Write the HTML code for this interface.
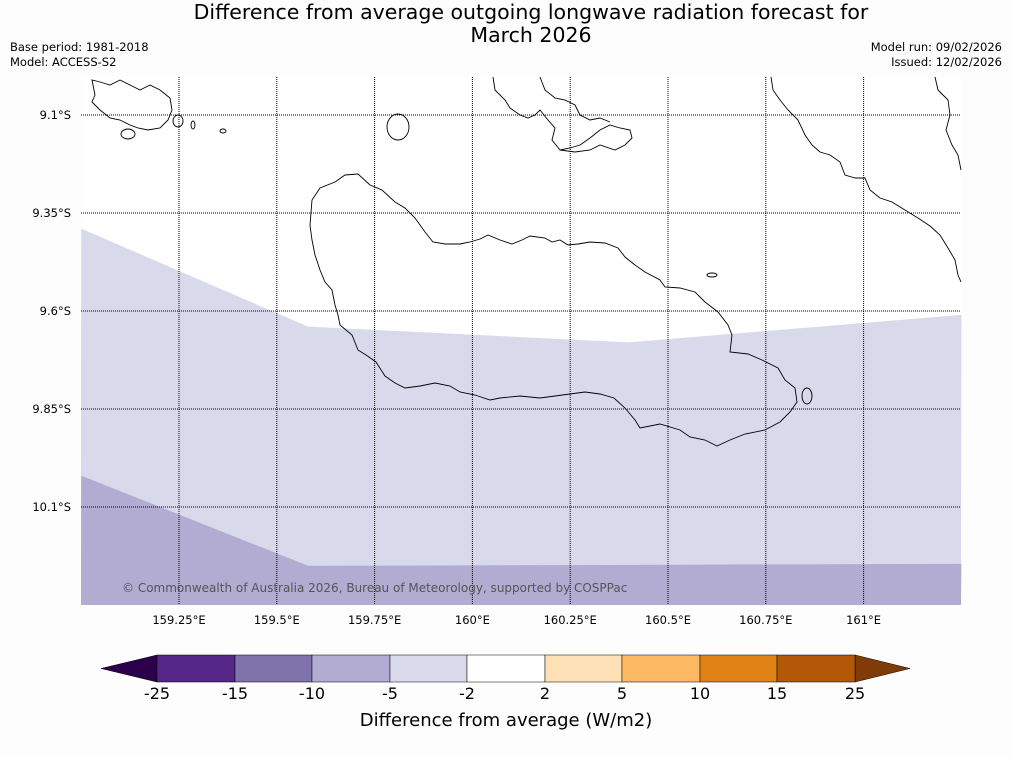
<!DOCTYPE html>
<html><head><meta charset="utf-8"><style>
body{margin:0;width:1011px;height:758px;background:#fdfdfd;font-family:"DejaVu Sans",sans-serif;position:relative;overflow:hidden}
.t{position:absolute;white-space:nowrap;color:#000}
</style></head><body>
<div class="t" style="left:0;width:1062px;text-align:center;top:1px;font-size:20.5px;line-height:23px">Difference from average outgoing longwave radiation forecast for<br>March 2026</div>
<div class="t" style="left:10px;top:40px;font-size:11.5px;line-height:15px">Base period: 1981-2018<br>Model: ACCESS-S2</div>
<div class="t" style="right:9px;top:40px;font-size:11.5px;line-height:15px;text-align:right">Model run: 09/02/2026<br>Issued: 12/02/2026</div>
<svg id="s" width="1011" height="758" style="position:absolute;left:0;top:0" font-family="DejaVu Sans, sans-serif"></svg>
<script>
const lonTicks=[159.25,159.5,159.75,160,160.25,160.5,160.75,161];
const lonLabels=["159.25°E","159.5°E","159.75°E","160°E","160.25°E","160.5°E","160.75°E","161°E"];
const latTicks=[9.1,9.35,9.6,9.85,10.1];
const latLabels=["9.1°S","9.35°S","9.6°S","9.85°S","10.1°S"];
// anomaly contour boundaries (lon, lat)
const band5Lons=[159.0,159.58,160.4,161.25];
const band5Lats=[9.39,9.64,9.68,9.61];
const band10Lons=[159.0,159.58,161.25];
const band10Lats=[10.02,10.25,10.245];
const cbBounds=[-25,-15,-10,-5,-2,2,5,10,15,25];
const cbColors=["#542788","#8073ac","#b2abd2","#d8daeb","#ffffff","#fee0b6","#fdb863","#e08214","#b35806"];
const NS="http://www.w3.org/2000/svg";
const s=document.getElementById('s');
const X=lon=>179+(lon-159.25)*391.2, Y=lat=>115+(lat-9.1)*392;
function el(t,a,p){const e=document.createElementNS(NS,t);for(const k in a)e.setAttribute(k,a[k]);(p||s).appendChild(e);return e;}
const g=el('g',{});


el('rect',{x:81,y:77,width:880,height:528,fill:'#fff'},g);
let p1=band5Lons.map((l,i)=>X(l)+','+Y(band5Lats[i])).join(' ')+' 961,605 81,605';
const a1=el('polygon',{points:p1,fill:'#d8daeb'},g);


let p2=band10Lons.map((l,i)=>X(l)+','+Y(band10Lats[i])).join(' ')+' 961,605 81,605';
const a2=el('polygon',{points:p2,fill:'#b2abd2'},g);


const coast=el('g',{fill:'none',stroke:'#000','stroke-width':0.9},g);


el('path',{d:'M310,225 L312,200 L320,188 L335,182 L345,175 L358,174 L370,185 L382,190 L395,202 L405,208 L415,218 L425,232 L433,242 L445,244 L460,244 L470,242 L480,239 L488,235 L500,240 L512,244 L522,240 L530,236 L545,238 L552,242 L560,240 L568,245 L578,244 L590,242 L605,243 L618,248 L625,257 L635,265 L645,272 L660,280 L665,287 L680,288 L695,292 L705,302 L718,312 L728,325 L732,335 L730,352 L748,354 L762,360 L778,368 L785,380 L795,388 L797,402 L790,412 L780,422 L765,430 L745,434 L730,440 L717,446 L705,440 L690,437 L680,430 L660,424 L640,428 L635,420 L625,408 L614,398 L600,394 L585,392 L570,394 L555,396 L540,398 L520,396 L500,398 L490,400 L475,395 L460,392 L450,386 L435,383 L420,386 L405,388 L395,383 L385,376 L376,362 L366,355 L358,350 L352,335 L340,325 L338,315 L335,305 L332,290 L325,282 L320,270 L315,255 L312,240 Z'},coast);
el('ellipse',{cx:398,cy:127,rx:11,ry:13},coast);
el('path',{d:'M493,77 L495,90 L505,100 L510,108 L520,115 L528,118 L535,115 L540,110 L548,120 L555,128 L552,140 L560,150 L570,148 L580,145 L590,138 L600,130 L610,125 L620,128 L630,130 L632,138 L625,145 L615,150 L600,145 L590,150 L575,152 L560,150'},coast);
el('path',{d:'M540,77 L545,90 L555,98 L565,100 L575,105 L580,115 L590,120 L600,118 L610,122'},coast);
el('path',{d:'M92,80 L95,95 L92,102 L100,110 L110,118 L120,120 L130,125 L138,128 L148,130 L160,128 L168,120 L172,110 L170,98 L160,90 L150,85 L140,90 L130,85 L120,80 L110,85 L100,82 Z'},coast);
el('ellipse',{cx:128,cy:134,rx:7,ry:5},coast);
el('ellipse',{cx:178,cy:121,rx:5,ry:6},coast);
el('ellipse',{cx:223,cy:131,rx:3,ry:2},coast);
el('ellipse',{cx:193,cy:125,rx:2,ry:4},coast);
el('path',{d:'M771,77 L773,90 L780,100 L788,110 L798,120 L805,135 L812,145 L820,152 L830,155 L840,162 L845,175 L855,178 L865,178 L870,190 L880,198 L892,202 L905,210 L918,218 L930,226 L940,235 L948,248 L955,260 L958,275 L961,282'},coast);
el('path',{d:'M935,77 L938,90 L948,100 L950,115 L946,130 L952,145 L958,155 L961,170'},coast);
el('ellipse',{cx:712,cy:275,rx:5,ry:2},coast);
el('ellipse',{cx:807,cy:396,rx:5,ry:8},coast);
// grid
lonTicks.forEach((lon,i)=>{
 const l=el('line',{x1:X(lon),x2:X(lon),y1:77,y2:605,stroke:'#000','stroke-width':1,'stroke-dasharray':'1,1'});
 
 
 const t=el('text',{x:X(lon),y:624,'font-size':11.5,'text-anchor':'middle'});t.textContent=lonLabels[i];
 
 
});
latTicks.forEach((lat,i)=>{
 const l=el('line',{x1:81,x2:961,y1:Y(lat),y2:Y(lat),stroke:'#000','stroke-width':1,'stroke-dasharray':'1,1'});
 
 
 const t=el('text',{x:71,y:Y(lat)+4,'font-size':11.5,'text-anchor':'end'});t.textContent=latLabels[i];
 
 
});
const cp=el('text',{x:122,y:592,'font-size':12,fill:'#555'});cp.textContent='© Commonwealth of Australia 2026, Bureau of Meteorology, supported by COSPPac';


// colorbar
const cbX=[157,235,312,390,467,545,622,700,777,855];
const cb=el('g',{});


el('polygon',{points:'101,668.5 157,655 157,682',fill:'#2d004b',stroke:'#000','stroke-width':0.5},cb);
el('polygon',{points:'910,668.5 855,655 855,682',fill:'#7f3b08',stroke:'#000','stroke-width':0.5},cb);
cbColors.forEach((c,i)=>{
 const r=el('rect',{x:cbX[i],y:655,width:cbX[i+1]-cbX[i],height:27,fill:c,stroke:'#000','stroke-width':0.5},cb);
 
 
});
cbBounds.forEach((v,i)=>{
 const t=el('text',{x:cbX[i],y:699,'font-size':16,'text-anchor':'middle'},cb);t.textContent=v;
 
 
});
const ct=el('text',{x:506,y:726,'font-size':18,'text-anchor':'middle'});ct.textContent='Difference from average (W/m2)';


</script>
</body></html>
